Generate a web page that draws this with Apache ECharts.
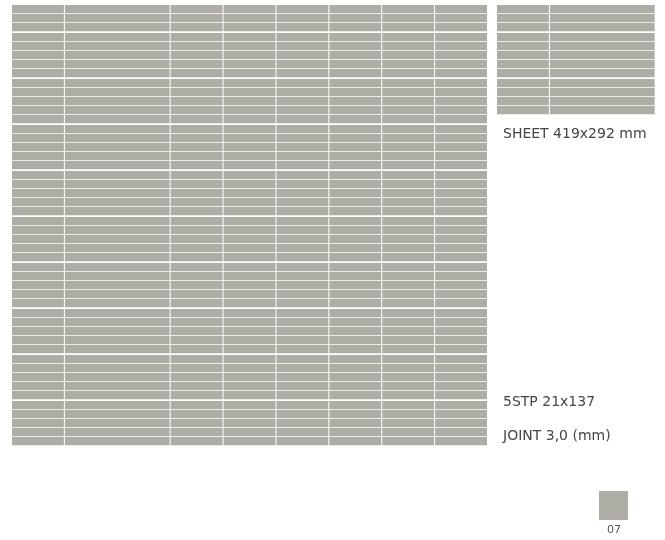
<!DOCTYPE html>
<html>
<head>
<meta charset="utf-8">
<script src="https://cdn.jsdelivr.net/npm/echarts@6/dist/echarts.min.js"></script>
<style>
  html, body { margin: 0; padding: 0; background: #fff; }
  #view { width: 665px; height: 540px; }
</style>
</head>
<body>
<div id="view"></div>
<script>
// column lengths, in half-tile units (one 137 strip = 2 units)
var mainCols = [1, 2, 1, 1, 1, 1, 1, 1];
var sheetCols = [1, 2];
// rows per sheet band (5 strips of 21mm per band)
var mainGroups = [3, 5, 5, 5, 5, 5, 5, 5, 5, 5];
var sheetGroups = [3, 5, 4];
var groupGap = 0.12; // extra joint between bands, in row units

var labels = ['SHEET 419x292 mm', '5STP 21x137', 'JOINT 3,0 (mm)'];
var colourName = '07';
var tileColor = '#adaca5';

function buildTiles(cols, groups) {
    var out = [];
    var y = 0;
    groups.forEach(function (n, g) {
        for (var r = 0; r < n; r++) {
            var x = 0;
            cols.forEach(function (w) {
                out.push([x, x + w, y, y + 1]);
                x += w;
            });
            y += 1;
        }
        y += groupGap;
    });
    return out;
}
function totalRows(groups) {
    var n = 0;
    groups.forEach(function (g) { n += g; });
    return n + (groups.length - 1) * groupGap;
}
function sum(a) { return a.reduce(function (s, v) { return s + v; }, 0); }

var mainTiles = buildTiles(mainCols, mainGroups);
var sheetTiles = buildTiles(sheetCols, sheetGroups);

function renderTile(params, api) {
    var a = api.coord([api.value(0), api.value(2)]);
    var b = api.coord([api.value(1), api.value(3)]);
    return {
        type: 'rect',
        shape: { x: a[0], y: a[1], width: b[0] - a[0] - 1, height: b[1] - a[1] - 0.8 },
        style: { fill: tileColor }
    };
}

var myChart = echarts.init(document.getElementById('view'));
var pxRow = 8.985, pxCol = 52.89;
var option = {
    backgroundColor: '#ffffff',
    animation: false,
    grid: [
        { left: 12, top: 5, width: sum(mainCols) * pxCol, height: totalRows(mainGroups) * pxRow },
        { left: 497, top: 5, width: sum(sheetCols) * pxCol, height: totalRows(sheetGroups) * pxRow }
    ],
    xAxis: [
        { gridIndex: 0, type: 'value', min: 0, max: sum(mainCols), show: false },
        { gridIndex: 1, type: 'value', min: 0, max: sum(sheetCols), show: false }
    ],
    yAxis: [
        { gridIndex: 0, type: 'value', inverse: true, min: 0, max: totalRows(mainGroups), show: false },
        { gridIndex: 1, type: 'value', inverse: true, min: 0, max: totalRows(sheetGroups), show: false }
    ],
    series: [{
        type: 'custom',
        xAxisIndex: 0, yAxisIndex: 0,
        renderItem: renderTile,
        data: mainTiles,
        silent: true
    }, {
        type: 'custom',
        xAxisIndex: 1, yAxisIndex: 1,
        renderItem: renderTile,
        data: sheetTiles,
        silent: true
    }],
    graphic: [
        { type: 'text', left: 503, top: 127, style: { text: labels[0], fill: '#454545', font: '14px "DejaVu Sans"' } },
        { type: 'text', left: 503, top: 395, style: { text: labels[1], fill: '#454545', font: '14px "DejaVu Sans"' } },
        { type: 'text', left: 503, top: 429, style: { text: labels[2], fill: '#454545', font: '14px "DejaVu Sans"' } },
        { type: 'rect', left: 599, top: 491, shape: { width: 29, height: 29 }, style: { fill: tileColor } },
        { type: 'text', left: 607, top: 525, style: { text: colourName, fill: '#555555', font: '11px "DejaVu Sans"' } }
    ]
};
myChart.setOption(option);
</script>
</body>
</html>
